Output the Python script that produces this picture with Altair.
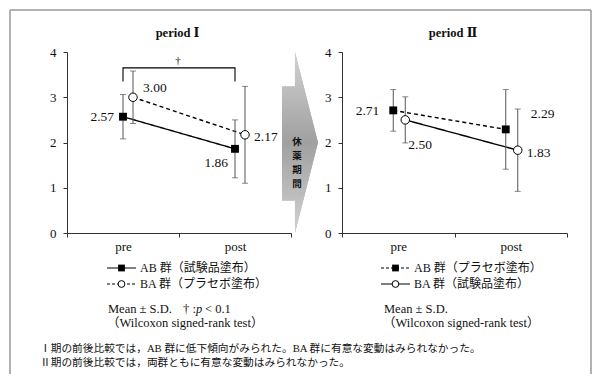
import altair as alt
import pandas as pd

# ---------------- data ----------------
phases = ["pre", "post"]
groups = ["AB", "BA"]
p1_mean_ab = [2.57, 1.86]
p1_sd_ab = [0.49, 0.64]
p1_mean_ba = [3.00, 2.17]
p1_sd_ba = [0.58, 1.07]
p2_mean_ab = [2.71, 2.29]
p2_sd_ab = [0.46, 0.88]
p2_mean_ba = [2.50, 1.83]
p2_sd_ba = [0.51, 0.91]
y_ticks = [0, 1, 2, 3, 4]
panel_titles = ["period Ⅰ", "period Ⅱ"]
legend_p1 = ["AB 群（試験品塗布）", "BA 群（プラセボ塗布）"]
legend_p2 = ["AB 群（プラセボ塗布）", "BA 群（試験品塗布）"]
stat_note = ["Mean ± S.D.", "（Wilcoxon signed-rank test）"]
sig_note = ["†", ":", "p", "< 0.1"]
footnotes = [
    "Ⅰ期の前後比較では，AB 群に低下傾向がみられた。BA 群に有意な変動はみられなかった。",
    "Ⅱ期の前後比較では，両群ともに有意な変動はみられなかった。",
]
break_label = ["休", "薬", "期", "間"]
# arrow outline in unit coordinates
arrow_x = [0.0, 0.36, 0.36, 1.0]
arrow_lo = [0.18, 0.18, 0.0, 0.5]
arrow_hi = [0.81, 0.81, 1.0, 0.5]
bracket_phase = ["pre", "pre", "post", "post"]
bracket_level = [3.35, 3.65, 3.65, 3.35]
dagger = ["†"]

# ---------------- styling ----------------
SERIF = "Liberation Serif, DejaVu Serif, Noto Sans CJK JP"
JP = "Liberation Serif, Noto Sans CJK JP"
AX = "#333333"
W, H = 581, 364
Y_RANGE = [223, 42]


def make_df(mab, sab, mba, sba):
    rows = []
    for g, m, s in (("AB", mab, sab), ("BA", mba, sba)):
        for i, p in enumerate(phases):
            rows.append(dict(group=g, phase=p, ord=i, mean=m[i], sd=s[i],
                             lo=m[i] - s[i], hi=m[i] + s[i]))
    return pd.DataFrame(rows)


df1 = make_df(p1_mean_ab, p1_sd_ab, p1_mean_ba, p1_sd_ba)
df2 = make_df(p2_mean_ab, p2_sd_ab, p2_mean_ba, p2_sd_ba)


def panel(df, xr, styles, labels, bracket=False):
    xscale = alt.Scale(domain=phases, range=xr, paddingInner=0, paddingOuter=0)
    xaxis = alt.Axis(title=None, orient="bottom", offset=Y_RANGE[0] - H,
                     tickBand="extent", labelAngle=0, domainColor=AX,
                     tickColor=AX, tickSize=4, labelPadding=3, labelFont=SERIF,
                     labelFontSize=13, labelColor="#111", grid=False)
    yscale = alt.Scale(domain=[0, 4], range=Y_RANGE, nice=False, zero=True)
    yaxis = alt.Axis(title=None, orient="left", offset=-xr[0], values=y_ticks,
                     domainColor=AX, tickColor=AX, tickSize=4, labelPadding=7,
                     labelFont=SERIF, labelFontSize=13, labelColor="#111",
                     grid=False)

    def X():
        return alt.X("phase:N", sort=phases, scale=xscale, axis=xaxis)

    def Y(f):
        return alt.Y(f, scale=yscale, axis=yaxis)

    layers = []
    for g in groups:
        st = styles[g]
        sub = alt.Chart(df).transform_filter(alt.datum.group == g)
        layers.append(sub.mark_line(color="black", stroke="black", strokeWidth=1.4,
                                    strokeDash=st["dash"], xOffset=st["off"])
                      .encode(x=X(), y=Y("mean:Q"), order="ord:Q"))
    for g in groups:
        st = styles[g]
        sub = alt.Chart(df).transform_filter(alt.datum.group == g)
        layers.append(sub.mark_rule(color="#555", strokeWidth=1, xOffset=st["off"])
                      .encode(x=X(), y=Y("lo:Q"), y2="hi:Q"))
        for f in ("lo:Q", "hi:Q"):
            layers.append(sub.mark_tick(color="#555", thickness=1, size=6,
                                        orient="horizontal", xOffset=st["off"])
                          .encode(x=X(), y=Y(f)))
    for g in groups:
        st = styles[g]
        sub = alt.Chart(df).transform_filter(alt.datum.group == g)
        if st["shape"] == "square":
            mk = sub.mark_point(shape="square", filled=True, color="black",
                                size=62, opacity=1, xOffset=st["off"])
        else:
            mk = sub.mark_point(shape="circle", filled=True, fill="white",
                                stroke="black", strokeWidth=1, size=72,
                                opacity=1, xOffset=st["off"])
        layers.append(mk.encode(x=X(), y=Y("mean:Q")))
    for (g, p), (dx, dy, al) in labels.items():
        sub = alt.Chart(df).transform_filter(
            (alt.datum.group == g) & (alt.datum.phase == p))
        layers.append(sub.mark_text(dx=dx, dy=dy, align=al, baseline="middle",
                                    font=SERIF, fontSize=13.5, color="#111")
                      .encode(x=X(), y=Y("mean:Q"),
                              text=alt.Text("mean:Q", format=".2f")))
    if bracket:
        bdf = pd.DataFrame({"phase": bracket_phase, "level": bracket_level,
                            "ord": list(range(len(bracket_phase)))})
        layers.append(alt.Chart(bdf).mark_line(color="black", stroke="black",
                                               strokeWidth=1.1)
                      .encode(x=X(), y=Y("level:Q"), order="ord:Q"))
    return alt.layer(*layers)


left = panel(
    df1, [57, 281],
    {"AB": {"dash": [1, 0], "off": 0, "shape": "square"},
     "BA": {"dash": [4, 3], "off": 10, "shape": "circle"}},
    {("AB", "pre"): (-9, 0, "right"), ("BA", "pre"): (20, -9, "left"),
     ("AB", "post"): (-7, 14, "right"), ("BA", "post"): (19, 2, "left")},
    bracket=True,
)
right = panel(
    df2, [332, 557],
    {"AB": {"dash": [4, 3], "off": -5, "shape": "square"},
     "BA": {"dash": [1, 0], "off": 7, "shape": "circle"}},
    {("AB", "pre"): (-19, 1, "right"), ("BA", "pre"): (10, 25, "left"),
     ("AB", "post"): (20, -15, "left"), ("BA", "post"): (16, 3, "left")},
)

one = alt.Data(values=[{"k": 0}])


def text_at(txt, x, y, size=12, font=JP, align="left", weight="normal",
            style="normal", **kw):
    return alt.Chart(alt.Data(values=[{"t": txt}])).mark_text(
        align=align, baseline="middle", font=font, fontSize=size,
        fontWeight=weight, fontStyle=style, color="#111", fill="#111", **kw
    ).encode(x=alt.value(x), y=alt.value(y), text="t:N")


# titles and dagger
titles = [text_at(panel_titles[0], 167.5, 23, size=12.5, font=SERIF,
                  align="center", weight="bold"),
          text_at(panel_titles[1], 443, 23, size=12.5, font=SERIF,
                  align="center", weight="bold"),
          text_at(dagger[0], 168, 51, size=11, font=SERIF, align="center")]

# arrow
adf = pd.DataFrame({"ax": arrow_x, "lo": arrow_lo, "hi": arrow_hi})
ax_scale = alt.Scale(domain=[0, 1], range=[272, 308])
ay_scale = alt.Scale(domain=[0, 1], range=Y_RANGE)
grad = alt.LinearGradient(
    gradient="linear", x1=0, x2=0, y1=0, y2=1,
    stops=[alt.GradientStop(color="#d2d2d2", offset=0),
           alt.GradientStop(color="#a0a0a0", offset=0.5),
           alt.GradientStop(color="#d2d2d2", offset=1)])
arrow_base = alt.Chart(adf).mark_area(
    fill="#ababab", opacity=1, orient="vertical", interpolate="linear"
).encode(
    x=alt.X("ax:Q", scale=ax_scale, axis=None),
    y=alt.Y("lo:Q", scale=ay_scale, axis=None),
    y2="hi:Q",
)
arrow_grad = alt.Chart(adf).mark_area(
    fill=grad, opacity=1, orient="vertical", interpolate="linear"
).encode(
    x=alt.X("ax:Q", scale=ax_scale, axis=None),
    y=alt.Y("lo:Q", scale=ay_scale, axis=None),
    y2="hi:Q",
)
arrow = alt.layer(arrow_base, arrow_grad)
arrow_text = alt.Chart(alt.Data(values=[{"t": "\n".join(break_label)}])).mark_text(
    lineBreak="\n", font="Noto Sans CJK JP", fontWeight="bold", fontSize=9.5,
    lineHeight=14, align="center", baseline="middle", color="#111"
).encode(x=alt.value(287), y=alt.value(132), text="t:N")


# legends
def legend_entry(label, x0, y, dash, shape):
    line = alt.Chart(one).mark_rule(color="black", strokeWidth=1.2,
                                    strokeDash=dash).encode(
        x=alt.value(x0), x2=alt.value(x0 + 29), y=alt.value(y))
    if shape == "square":
        pt = alt.Chart(one).mark_point(shape="square", filled=True,
                                       color="black", size=46, opacity=1)
    else:
        pt = alt.Chart(one).mark_point(shape="circle", filled=True,
                                       fill="white", stroke="black",
                                       strokeWidth=1, size=46, opacity=1)
    pt = pt.encode(x=alt.value(x0 + 14.5), y=alt.value(y))
    return [line, pt, text_at(label, x0 + 33, y, size=12)]


legends = []
legends += legend_entry(legend_p1[0], 97, 258, [1, 0], "square")
legends += legend_entry(legend_p1[1], 97, 274, [3, 2], "circle")
legends += legend_entry(legend_p2[0], 371, 258, [3, 2], "square")
legends += legend_entry(legend_p2[1], 371, 274, [1, 0], "circle")

notes = [
    text_at(stat_note[0], 98, 299, size=12.5),
    text_at(sig_note[0] + " " + sig_note[1], 173, 299, size=12.5, font=SERIF),
    text_at(sig_note[2], 186, 299, size=12.5, font=SERIF, style="italic"),
    text_at(sig_note[3], 195, 299, size=12.5, font=SERIF),
    text_at(stat_note[1], 97, 313, size=12.5),
    text_at(stat_note[0], 374, 299, size=12.5),
    text_at(stat_note[1], 373, 313, size=12.5),
    text_at(footnotes[0], 30, 339, size=10.7),
    text_at(footnotes[1], 30, 353, size=10.7),
]

# frame (top, left, right; bottom runs off the page)
frame = [
    alt.Chart(one).mark_rule(color="#999", strokeWidth=1.5).encode(
        x=alt.value(0), x2=alt.value(W), y=alt.value(0)),
    alt.Chart(one).mark_rule(color="#999", strokeWidth=1.5).encode(
        x=alt.value(0), y=alt.value(0), y2=alt.value(H)),
    alt.Chart(one).mark_rule(color="#999", strokeWidth=1.5).encode(
        x=alt.value(W), y=alt.value(0), y2=alt.value(H)),
]

chart = alt.layer(
    arrow, arrow_text, left, right, *titles, *legends, *notes, *frame
).resolve_scale(x="independent", y="independent").properties(
    width=W, height=H,
    autosize=alt.AutoSizeParams(type="none"),
    padding={"left": 2, "top": 2, "right": 1, "bottom": 1},
    background="white",
).configure_view(stroke=None)

chart.save("out.html", embed_options={"renderer": "svg", "actions": False})
